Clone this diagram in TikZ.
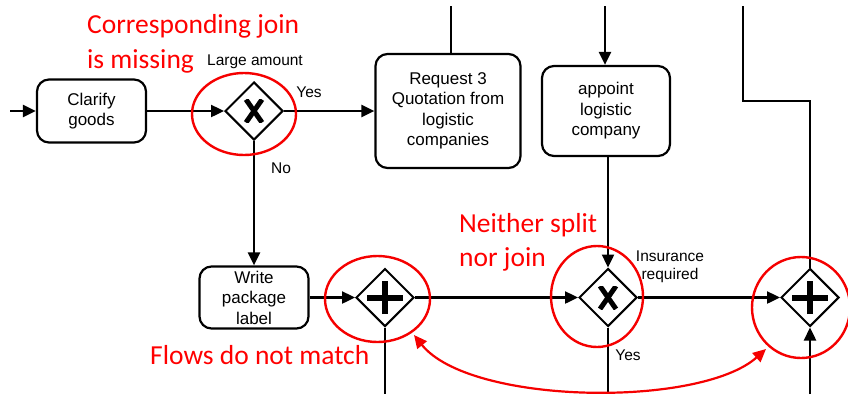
\documentclass[tikz,border=0pt]{standalone}
\usepackage{fontspec}
\setmainfont{Liberation Sans}
\newfontfamily\notefont{Carlito}
\usetikzlibrary{arrows.meta,shapes.geometric}
\definecolor{notered}{RGB}{255,0,0}
\definecolor{ringred}{RGB}{245,0,0}
\tikzset{
  task/.style={draw, line width=2.2pt, rounded corners=12pt, align=center,
    inner sep=0pt, font=\fontsize{17}{20.5}\selectfont},
  gw/.style={draw, diamond, aspect=1, line width=2pt, minimum width=58pt,
    minimum height=58pt, inner sep=0pt},
  flow/.style={line width=2.4pt, -{Triangle[length=13pt,width=12pt]}},
  plain/.style={line width=2.4pt},
  lbl/.style={font=\fontsize{15.5}{18}\selectfont, align=center, inner sep=0pt},
  ring/.style={draw=ringred, ellipse, line width=2.4pt, inner sep=0pt},
  note/.style={text=notered, font=\notefont\fontsize{27.5}{34.5}\selectfont,
    align=left, inner sep=0pt},
  linkarc/.style={draw=ringred, line width=2.2pt,
    {Triangle[length=13pt,width=12pt]}-{Triangle[length=13pt,width=12pt]}}
}
\begin{document}
\begin{tikzpicture}[x=1pt,y=-1pt]
\useasboundingbox (0,0) rectangle (848,394);

% tasks
\node[task, minimum width=109pt, minimum height=63pt] (cg) at (91.5,111) {Clarify\\goods};
\node[task, minimum width=145pt, minimum height=114pt] (rq) at (448,111) {Request 3\\Quotation from\\logistic\\companies};
\node[task, minimum width=128pt, minimum height=90pt] (ap) at (606,111) {appoint\\logistic\\company};
\node[task, minimum width=109pt, minimum height=62pt] (wp) at (254,297.5) {Write\\package\\label};

% gateways
\node[gw] (g1) at (254,111) {};
\node[gw] (g2) at (385,297.5) {};
\node[gw] (g3) at (608,297.5) {};
\node[gw] (g4) at (810,297.5) {};

% exclusive markers
\foreach \g in {g1,g3}{
  \begin{scope}[shift={(\g.center)}]
    \clip (-14,-11.5) rectangle (14,11.5);
    \draw[line width=5pt] (-8,-11.5) -- (8,11.5) (8,-11.5) -- (-8,11.5);
  \end{scope}
}
% parallel markers
\foreach \g in {g2,g4}{
  \draw[line width=6pt] ([xshift=-18pt]\g.center) -- ([xshift=18pt]\g.center);
  \draw[line width=6pt] ([yshift=-16.5pt]\g.center) -- ([yshift=16.5pt]\g.center);
}

% free ends of flows
\coordinate (in) at (10,111);
\coordinate (rqtop) at (451,6);
\coordinate (aptop) at (605,6);
\coordinate (t4) at (743,6);
\coordinate (k4) at (743,101);
\coordinate (j4) at (810,101);
\coordinate (b2) at (385,394);
\coordinate (b3) at (608,394);
\coordinate (b4) at (810,394);

% sequence flows
\draw[flow] (in) -- (cg.west);
\draw[flow] (cg.east) -- (g1.west);
\draw[flow] (g1.east) -- (rq.west);
\draw[plain] (rqtop) -- (rqtop |- rq.north);
\draw[flow] (aptop) -- (aptop |- ap.north);
\draw[flow] (ap.south -| g3.north) -- (g3.north);
\draw[flow] (g1.south) -- (wp.north);
\draw[flow] (wp.east) -- (g2.west);
\draw[plain] (g2.south) -- (b2);
\draw[flow] (g2.east) -- (g3.west);
\draw[plain] (g3.south) -- (b3);
\draw[flow] (g3.east) -- (g4.west);
\draw[plain] (t4) -- (k4) -- (j4) -- (g4.north);
\draw[flow] (b4) -- (g4.south);

% flow labels
\node[lbl] at (255,62) {Large amount};
\node[lbl] at (309,92) {Yes};
\node[lbl] at (281,168) {No};
\node[lbl] at (670,267) {Insurance\\required};
\node[lbl] at (628,355) {Yes};

% review marks
\node[ring, minimum width=104pt, minimum height=82pt] (e1) at (244,114) {};
\node[ring, minimum width=105pt, minimum height=86pt] (e2) at (377.5,299) {};
\node[ring, minimum width=92pt, minimum height=101pt] (e3) at (597,296.5) {};
\node[ring, minimum width=98pt, minimum height=101pt] (e4) at (801,307.5) {};

\coordinate (m2) at (414,335);
\coordinate (m4) at (766,349);
\draw[linkarc] (m2) .. controls (470,405) and (700,408) .. (m4);

\node[note, anchor=west] at (87,44) {Corresponding join\\is missing};
\node[note, anchor=west] at (459,242.5) {Neither split\\nor join};
\node[note, anchor=west] at (150,355) {Flows do not match};
\end{tikzpicture}
\end{document}
